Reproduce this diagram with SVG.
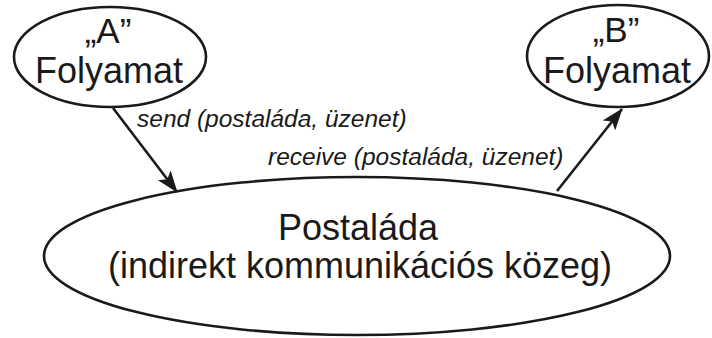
<svg xmlns="http://www.w3.org/2000/svg" width="712" height="338" viewBox="0 0 712 338">
<style>
.shape{fill:#fff;stroke:#1a1a1a;stroke-width:2.6}
.t{font-family:"Liberation Sans",Arial,sans-serif;fill:#1a1a1a;text-anchor:middle}
.lbl{font-family:"Liberation Sans",Arial,sans-serif;font-style:italic;font-size:24.5px;fill:#1a1a1a}
.conn{stroke:#1a1a1a;stroke-width:2.6;fill:none}
</style>
<defs>
<marker id="arrow" viewBox="0 0 22 16" refX="21" refY="8" markerWidth="22" markerHeight="16" orient="auto" markerUnits="userSpaceOnUse">
<path d="M0,0 L22,8 L0,16 L5,8 Z" fill="#1a1a1a"/>
</marker>
</defs>
<g id="postalada">
<ellipse class="shape" cx="357" cy="256" rx="313" ry="79"/>
<text class="t" x="358" y="240" font-size="36">Postaláda</text>
<text class="t" x="360" y="278" font-size="36">(indirekt kommunikációs közeg)</text>
</g>
<g id="folyamatA">
<ellipse class="shape" cx="110" cy="57" rx="96" ry="50"/>
<text class="t" x="108" y="43" font-size="35">„A”</text>
<text class="t" x="109" y="83" font-size="36">Folyamat</text>
</g>
<g id="folyamatB">
<ellipse class="shape" cx="618" cy="56" rx="91" ry="51"/>
<text class="t" x="616" y="42" font-size="35">„B”</text>
<text class="t" x="617" y="83" font-size="36">Folyamat</text>
</g>
<g id="connectors">
<line class="conn" x1="113" y1="108" x2="177" y2="192" marker-end="url(#arrow)"/>
<line class="conn" x1="557" y1="191" x2="622" y2="109" marker-end="url(#arrow)"/>
<text class="lbl" x="137" y="127">send (postaláda, üzenet)</text>
<text class="lbl" x="268" y="165">receive (postaláda, üzenet)</text>
</g>
</svg>
